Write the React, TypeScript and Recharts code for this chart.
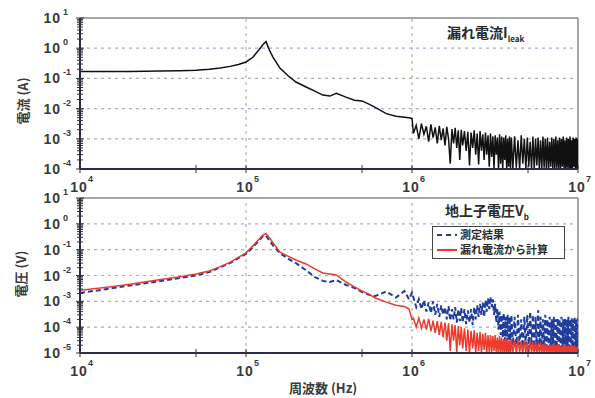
import React from "react";
import { LineChart, Line, XAxis, YAxis, ReferenceLine } from "recharts";

// frequency points (Hz) up to 1 MHz, where the curves are smooth
const smoothFreq = [
  1.0e4, 1.5e4, 2.0e4, 3.0e4, 4.0e4, 5.0e4, 6.0e4, 7.0e4, 8.0e4, 9.0e4,
  1.0e5, 1.1e5, 1.2e5, 1.27e5, 1.32e5, 1.38e5, 1.45e5, 1.6e5, 1.8e5, 2.0e5,
  2.3e5, 2.6e5, 2.9e5, 3.2e5, 3.5e5, 4.0e5, 4.5e5, 5.0e5, 5.5e5, 6.0e5,
  7.0e5, 8.0e5, 9.0e5, 9.6e5, 1.0e6,
];

// frequency points (MHz) above 1 MHz, where the curves are noisy
const noiseFreqMHz = [
  1.02, 1.06, 1.10, 1.14, 1.18, 1.22, 1.26, 1.30, 1.34, 1.38,
  1.42, 1.46, 1.50, 1.54, 1.58, 1.62, 1.66, 1.70, 1.74, 1.78,
  1.82, 1.86, 1.90, 1.94, 1.98,
  2.02, 2.07, 2.12, 2.17, 2.22, 2.27, 2.32, 2.37, 2.42, 2.47,
  2.52, 2.57, 2.62, 2.67, 2.72, 2.77, 2.82, 2.87, 2.92, 2.97,
  3.02, 3.07, 3.12, 3.17, 3.22, 3.27, 3.32, 3.37, 3.42, 3.47,
  3.52, 3.57, 3.62, 3.67, 3.72, 3.77, 3.82, 3.87, 3.92, 3.97,
  4.05, 4.15, 4.25, 4.35, 4.45, 4.55, 4.65, 4.75, 4.85, 4.95,
  5.05, 5.15, 5.25, 5.35, 5.45, 5.55, 5.65, 5.75, 5.85, 5.95,
  6.05, 6.15, 6.25, 6.35, 6.45, 6.55, 6.65, 6.75, 6.85, 6.95,
  7.05, 7.15, 7.25, 7.35, 7.45, 7.55, 7.65, 7.75, 7.85, 7.95,
  8.05, 8.15, 8.25, 8.35, 8.45, 8.55, 8.65, 8.75, 8.85, 8.95,
  9.05, 9.15, 9.25, 9.35, 9.45, 9.55, 9.65, 9.75, 9.85, 9.95,
  10.0,
];

// leak current (A)
const leakSmooth = [
  0.17, 0.17, 0.17, 0.175, 0.18, 0.185, 0.2, 0.22, 0.25, 0.29,
  0.35, 0.5, 0.9, 1.35, 1.65, 0.9, 0.52, 0.22, 0.12, 0.076,
  0.052, 0.038, 0.028, 0.026, 0.032, 0.024, 0.019, 0.018, 0.014, 0.011,
  0.0068, 0.0056, 0.0052, 0.005, 0.0047,
];
const leakNoise = [
  1.5e-3, 2.8e-3, 1.0e-3, 3.2e-3, 1.4e-3, 2.6e-3, 8.0e-4, 3.0e-3, 1.1e-3, 2.4e-3,
  7.0e-4, 2.7e-3, 9.0e-4, 2.2e-3, 6.0e-4, 2.5e-3, 1.0e-3, 1.5e-4, 2.1e-3, 7.0e-4,
  2.3e-3, 5.0e-4, 1.9e-3, 2.0e-4, 2.0e-3,
  6.0e-4, 1.8e-3, 4.0e-4, 1.7e-3, 1.3e-4, 1.6e-3, 5.0e-4, 1.9e-3, 3.0e-4, 1.5e-3,
  1.4e-4, 1.8e-3, 4.0e-4, 1.4e-3, 2.0e-4, 1.6e-3, 3.0e-4, 1.3e-3, 1.2e-4, 1.5e-3,
  2.5e-4, 1.2e-3, 1.0e-4, 1.3e-3, 3.0e-4, 1.1e-3, 1.0e-4, 1.4e-3, 1.5e-4, 1.2e-3,
  1.0e-4, 1.1e-3, 2.0e-4, 1.3e-3, 1.0e-4, 1.0e-3, 1.2e-4, 1.2e-3, 1.0e-4, 1.1e-3,
  1.0e-4, 1.2e-3, 1.1e-4, 9.0e-4, 1.0e-4, 1.3e-3, 1.5e-4, 1.0e-3, 1.0e-4, 1.1e-3,
  1.2e-4, 8.0e-4, 1.0e-4, 1.2e-3, 1.0e-4, 1.0e-3, 1.3e-4, 1.1e-3, 1.0e-4, 9.0e-4,
  1.0e-4, 1.2e-3, 1.1e-4, 1.0e-3, 1.0e-4, 1.1e-3, 1.0e-4, 8.0e-4, 1.2e-4, 1.1e-3,
  1.0e-4, 1.0e-3, 1.0e-4, 1.2e-3, 1.1e-4, 9.0e-4, 1.0e-4, 1.1e-3, 1.0e-4, 1.0e-3,
  1.2e-4, 1.2e-3, 1.0e-4, 9.0e-4, 1.0e-4, 1.1e-3, 1.1e-4, 1.0e-3, 1.0e-4, 1.2e-3,
  1.0e-4, 9.0e-4, 1.0e-4, 1.1e-3, 1.2e-4, 1.0e-3, 1.0e-4, 1.1e-3, 1.0e-4, 1.0e-3,
  1.1e-4,
];

// ground coil voltage, measured (V)
const measuredSmooth = [
  2.1e-3, 3.1e-3, 4.1e-3, 6.0e-3, 8.0e-3, 1.0e-2, 1.35e-2, 2.1e-2, 3.0e-2, 4.7e-2,
  6.8e-2, 0.125, 0.23, 0.34, 0.35, 0.23, 0.15, 0.074, 0.044, 0.03,
  0.016, 0.0087, 0.0062, 0.0056, 0.0067, 0.0043, 0.0033, 0.0023, 0.0018, 0.0016,
  2.4e-3, 1.4e-3, 2.5e-3, 1.2e-3, 2.2e-3,
];
const measuredNoise = [
  1.4e-3, 6.0e-4, 1.2e-3, 5.0e-4, 1.1e-3, 4.0e-4, 9.0e-4, 3.5e-4, 1.0e-3, 3.0e-4,
  8.0e-4, 2.5e-4, 7.0e-4, 3.0e-4, 6.0e-4, 2.0e-4, 6.5e-4, 1.8e-4, 5.0e-4, 2.0e-4,
  6.0e-4, 1.5e-4, 5.0e-4, 1.7e-4, 5.5e-4,
  1.5e-4, 5.0e-4, 1.3e-4, 4.5e-4, 1.5e-4, 5.0e-4, 1.2e-4, 6.0e-4, 2.0e-4, 7.0e-4,
  2.5e-4, 8.0e-4, 3.0e-4, 9.0e-4, 2.5e-4, 1.1e-3, 4.0e-4, 1.3e-3, 5.0e-4, 1.5e-3,
  6.0e-4, 1.2e-3, 3.0e-4, 8.0e-4, 1.5e-4, 5.0e-4, 8.0e-5, 4.0e-4, 5.0e-5, 3.0e-4,
  4.0e-5, 3.5e-4, 3.0e-5, 2.5e-4, 2.0e-5, 3.0e-4, 3.0e-5, 2.5e-4, 1.5e-5, 3.0e-4,
  2.0e-5, 2.5e-4, 1.5e-5, 3.0e-4, 2.0e-5, 2.0e-4, 1.2e-5, 2.5e-4, 2.0e-5, 3.0e-4,
  1.5e-5, 4.0e-4, 2.0e-5, 3.0e-4, 1.2e-5, 2.5e-4, 1.5e-5, 4.5e-4, 2.0e-5, 2.5e-4,
  1.2e-5, 2.0e-4, 1.5e-5, 3.0e-4, 1.2e-5, 2.0e-4, 1.5e-5, 2.5e-4, 1.2e-5, 2.0e-4,
  1.5e-5, 2.5e-4, 1.2e-5, 2.0e-4, 1.5e-5, 2.2e-4, 1.2e-5, 2.0e-4, 1.5e-5, 2.5e-4,
  1.2e-5, 2.0e-4, 1.5e-5, 2.2e-4, 1.2e-5, 2.0e-4, 1.5e-5, 2.5e-4, 1.2e-5, 2.0e-4,
  1.5e-5, 2.2e-4, 1.2e-5, 2.0e-4, 1.5e-5, 2.5e-4, 1.2e-5, 2.0e-4, 1.5e-5, 2.2e-4,
  1.5e-5,
];

// ground coil voltage, calculated from leak current (V)
const calculatedSmooth = [
  2.7e-3, 3.6e-3, 4.6e-3, 6.8e-3, 9.0e-3, 1.15e-2, 1.5e-2, 2.2e-2, 3.2e-2, 5.0e-2,
  7.5e-2, 0.14, 0.26, 0.38, 0.42, 0.3, 0.19, 0.08, 0.055, 0.04,
  0.028, 0.018, 0.0126, 0.0115, 0.0105, 0.0056, 0.0036, 0.0025, 0.0019, 0.00135,
  9.3e-4, 7.0e-4, 6.3e-4, 5.0e-4, 2.0e-4,
];
const calculatedNoise = [
  2.2e-4, 1.0e-4, 2.3e-4, 9.0e-5, 2.0e-4, 8.0e-5, 2.1e-4, 7.0e-5, 1.8e-4, 6.0e-5,
  1.7e-4, 5.0e-5, 1.6e-4, 4.0e-5, 1.5e-4, 3.0e-5, 1.4e-4, 1.2e-5, 1.3e-4, 3.0e-5,
  1.2e-4, 1.1e-5, 1.1e-4, 2.0e-5, 1.0e-4,
  1.5e-5, 9.0e-5, 1.2e-5, 8.0e-5, 1.0e-5, 7.0e-5, 1.5e-5, 7.5e-5, 1.0e-5, 6.0e-5,
  1.2e-5, 6.5e-5, 1.0e-5, 5.5e-5, 1.3e-5, 6.0e-5, 1.0e-5, 5.0e-5, 1.1e-5, 5.0e-5,
  1.0e-5, 4.5e-5, 1.2e-5, 5.0e-5, 1.0e-5, 4.0e-5, 1.0e-5, 4.5e-5, 1.1e-5, 4.0e-5,
  1.0e-5, 3.5e-5, 1.0e-5, 4.0e-5, 1.0e-5, 3.5e-5, 1.0e-5, 3.0e-5, 1.0e-5, 3.5e-5,
  1.0e-5, 3.0e-5, 1.0e-5, 3.5e-5, 1.0e-5, 2.8e-5, 1.0e-5, 3.0e-5, 1.0e-5, 2.5e-5,
  1.0e-5, 3.0e-5, 1.0e-5, 2.5e-5, 1.0e-5, 2.8e-5, 1.0e-5, 2.2e-5, 1.0e-5, 2.5e-5,
  1.0e-5, 2.2e-5, 1.0e-5, 2.5e-5, 1.0e-5, 2.0e-5, 1.0e-5, 2.2e-5, 1.0e-5, 2.0e-5,
  1.0e-5, 2.5e-5, 1.0e-5, 2.0e-5, 1.0e-5, 2.2e-5, 1.0e-5, 2.0e-5, 1.0e-5, 1.8e-5,
  1.0e-5, 2.0e-5, 1.0e-5, 2.2e-5, 1.0e-5, 1.8e-5, 1.0e-5, 2.0e-5, 1.0e-5, 1.8e-5,
  1.0e-5, 2.0e-5, 1.0e-5, 1.8e-5, 1.0e-5, 2.0e-5, 1.0e-5, 1.6e-5, 1.0e-5, 1.8e-5,
  1.0e-5,
];

const xTicks = [1e4, 5e4, 1e5, 5e5, 1e6, 5e6, 1e7];
const topDecades = [-4, -3, -2, -1, 0, 1];
const bottomDecades = [-5, -4, -3, -2, -1, 0, 1];
const minorSteps = [1, 2, 3, 4, 5, 6, 7, 8, 9];

const freq = [...smoothFreq, ...noiseFreqMHz.map((m) => m * 1e6)];
const leakCurrent = [...leakSmooth, ...leakNoise];
const measured = [...measuredSmooth, ...measuredNoise];
const calculated = [...calculatedSmooth, ...calculatedNoise];

const topData = freq.map((f, i) => ({ f, leak: leakCurrent[i] }));
const bottomData = freq.map((f, i) => ({
  f,
  measured: measured[i],
  calculated: calculated[i],
}));

const logTicks = (decades: number[]) => {
  const out: number[] = [];
  decades.forEach((d, i) => {
    if (i === decades.length - 1) {
      out.push(Math.pow(10, d));
      return;
    }
    minorSteps.forEach((m) => out.push(m * Math.pow(10, d)));
  });
  return out;
};

const AXIS_X = 80;
const NUM_FONT = "'Liberation Sans', Arial, sans-serif";
const JP_FONT = "'Noto Sans CJK JP', sans-serif";
const BLUE_GRID = "#a9acd8";
const OLIVE_GRID = "#b0b09a";

const isMajor = (v: number) => {
  const e = Math.log10(v);
  return Math.abs(e - Math.round(e)) < 1e-6;
};

const YTick = (props: any) => {
  const { y, payload } = props;
  const v = payload.value;
  const major = isMajor(v);
  const e = Math.round(Math.log10(v));
  return (
    <g>
      <line
        x1={AXIS_X - (major ? 4 : 3)}
        x2={AXIS_X + (major ? 4 : 3)}
        y1={y}
        y2={y}
        stroke="#333"
        strokeWidth={1}
      />
      {major && (
        <g fontFamily={NUM_FONT} fontWeight="bold" fill="#3a3a3a">
          <text x={61} y={y + 5} textAnchor="end" fontSize={14} letterSpacing={1}>
            10
          </text>
          <text x={63} y={y - 3} fontSize={9}>
            {e}
          </text>
        </g>
      )}
    </g>
  );
};

const makeXTick = (plotBottom: number) => (props: any) => {
  const { x, payload } = props;
  const v = payload.value;
  const major = isMajor(v);
  const e = Math.round(Math.log10(v));
  return (
    <g>
      <line x1={x} x2={x} y1={plotBottom - 4} y2={plotBottom + 4} stroke="#333" strokeWidth={1} />
      {major && (
        <g fontFamily={NUM_FONT} fontWeight="bold" fill="#3a3a3a">
          <text x={x - 1} y={plotBottom + 23} textAnchor="middle" fontSize={14} letterSpacing={1}>
            10
          </text>
          <text x={x + 8} y={plotBottom + 13} fontSize={9}>
            {e}
          </text>
        </g>
      )}
    </g>
  );
};

const decadeLines = (decades: number[], firstBlue: boolean) =>
  decades.slice(1, -1).map((d, i) => (
    <ReferenceLine
      key={`h${d}`}
      y={Math.pow(10, d)}
      stroke={(i % 2 === 0) === firstBlue ? BLUE_GRID : OLIVE_GRID}
      strokeDasharray="3 4"
      strokeWidth={1.2}
    />
  ));

const verticalLines = () => [
  <ReferenceLine key="v5" x={1e5} stroke={BLUE_GRID} strokeDasharray="3 4" strokeWidth={1.2} />,
  <ReferenceLine key="v6" x={1e6} stroke={OLIVE_GRID} strokeDasharray="3 4" strokeWidth={1.2} />,
];

const frameLines = (top: number) => [
  <ReferenceLine key="top" y={top} stroke="#8a8a8a" strokeWidth={1.5} />,
  <ReferenceLine key="right" x={1e7} stroke="#8a8a8a" strokeWidth={1.5} />,
];

const axisLine = { stroke: "#2c2c48", strokeWidth: 2 };

const rotLabel = (text: string, cx: number, cy: number) => (
  <div
    style={{
      position: "absolute",
      left: cx - 40,
      top: cy - 9,
      width: 80,
      height: 18,
      lineHeight: "18px",
      textAlign: "center",
      transform: "rotate(-90deg)",
      fontFamily: JP_FONT,
      fontWeight: "bold",
      fontSize: 13,
      color: "#3a3a3a",
    }}
  >
    {text}
  </div>
);

export default function App() {
  return (
    <div
      style={{
        position: "absolute",
        left: 0,
        top: 0,
        width: 595,
        height: 398,
        background: "#fff",
        overflow: "hidden",
      }}
    >
      <div style={{ position: "absolute", left: 0, top: 0 }}>
        <LineChart width={595} height={200} data={topData} margin={{ top: 18, right: 17, bottom: 6, left: 0 }}>
          <XAxis
            dataKey="f"
            type="number"
            scale="log"
            domain={[1e4, 1e7]}
            allowDataOverflow
            ticks={xTicks}
            interval={0}
            tick={makeXTick(169)}
            tickLine={false}
            axisLine={axisLine}
            height={25}
          />
          <YAxis
            type="number"
            scale="log"
            domain={[1e-4, 10]}
            allowDataOverflow
            ticks={logTicks(topDecades)}
            interval={0}
            tick={YTick}
            tickLine={false}
            axisLine={axisLine}
            width={80}
          />
          {decadeLines(topDecades, false)}
          {verticalLines()}
          {frameLines(10)}
          <Line
            dataKey="leak"
            type="linear"
            stroke="#111"
            strokeWidth={1.5}
            dot={false}
            isAnimationActive={false}
          />
        </LineChart>
      </div>

      <div style={{ position: "absolute", left: 0, top: 180 }}>
        <LineChart width={595} height={218} data={bottomData} margin={{ top: 18, right: 17, bottom: 20, left: 0 }}>
          <XAxis
            dataKey="f"
            type="number"
            scale="log"
            domain={[1e4, 1e7]}
            allowDataOverflow
            ticks={xTicks}
            interval={0}
            tick={makeXTick(173)}
            tickLine={false}
            axisLine={axisLine}
            height={25}
          />
          <YAxis
            type="number"
            scale="log"
            domain={[1e-5, 10]}
            allowDataOverflow
            ticks={logTicks(bottomDecades)}
            interval={0}
            tick={YTick}
            tickLine={false}
            axisLine={axisLine}
            width={80}
          />
          {decadeLines(bottomDecades, true)}
          {verticalLines()}
          {frameLines(10)}
          <Line
            dataKey="measured"
            type="linear"
            stroke="#1f3d9e"
            strokeWidth={2}
            strokeDasharray="5 3"
            dot={false}
            isAnimationActive={false}
          />
          <Line
            dataKey="calculated"
            type="linear"
            stroke="#ee3a2c"
            strokeWidth={1.5}
            dot={false}
            isAnimationActive={false}
          />
        </LineChart>
      </div>

      {rotLabel("電流 (A)", 23, 101)}
      {rotLabel("電圧 (V)", 21, 274)}

      <div
        style={{
          position: "absolute",
          left: 447,
          top: 24,
          fontFamily: JP_FONT,
          fontWeight: "bold",
          fontSize: 14,
          lineHeight: "16px",
          color: "#2a2a2a",
        }}
      >
        漏れ電流I<sub style={{ fontSize: 8, verticalAlign: "-4px" }}>leak</sub>
      </div>
      <div
        style={{
          position: "absolute",
          left: 445,
          top: 202,
          fontFamily: JP_FONT,
          fontWeight: "bold",
          fontSize: 14,
          lineHeight: "16px",
          color: "#2a2a2a",
        }}
      >
        地上子電圧V<sub style={{ fontSize: 8, verticalAlign: "-4px" }}>b</sub>
      </div>

      <div
        style={{
          position: "absolute",
          left: 432,
          top: 226,
          width: 128,
          height: 31,
          border: "1.5px solid #444",
          background: "#fff",
          fontFamily: JP_FONT,
          fontWeight: "bold",
          fontSize: 11,
          color: "#2a2a2a",
          padding: "0 0 0 3px",
        }}
      >
        {[
          { label: "測定結果", color: "#1f3d9e", dash: "5 4" },
          { label: "漏れ電流から計算", color: "#ee3a2c", dash: undefined },
        ].map((item) => (
          <div
            key={item.label}
            style={{ display: "flex", alignItems: "center", height: 15, lineHeight: "15px" }}
          >
            <svg width={22} height={10}>
              <line
                x1={1}
                x2={21}
                y1={5}
                y2={5}
                stroke={item.color}
                strokeWidth={2}
                strokeDasharray={item.dash}
              />
            </svg>
            <span style={{ marginLeft: 2 }}>{item.label}</span>
          </div>
        ))}
      </div>

      <div
        style={{
          position: "absolute",
          left: 289,
          top: 380,
          fontFamily: JP_FONT,
          fontWeight: "bold",
          fontSize: 13,
          lineHeight: "16px",
          color: "#3a3a3a",
        }}
      >
        周波数 (Hz)
      </div>
    </div>
  );
}
